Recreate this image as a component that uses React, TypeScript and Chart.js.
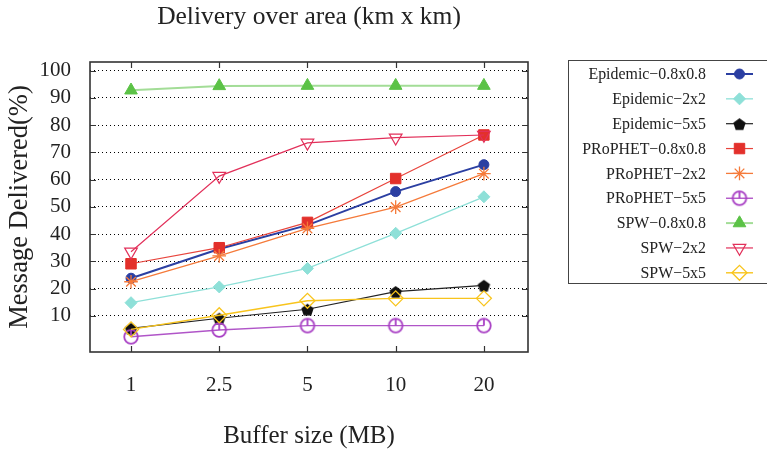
import React, { useEffect, useRef } from 'react';
import { Chart, registerables } from 'chart.js';
import { drawPoint } from 'chart.js/helpers';

Chart.register(...registerables);

// ---- data ----
const chartTitle = 'Delivery over area (km x km)';
const xAxisTitle = 'Buffer size (MB)';
const yAxisTitle = 'Message Delivered(%)';
const xLabels = ['1', '2.5', '5', '10', '20'];
const yTicks = [10, 20, 30, 40, 50, 60, 70, 80, 90, 100];

const seriesNames = [
  'Epidemic\u22120.8x0.8',
  'Epidemic\u22122x2',
  'Epidemic\u22125x5',
  'PRoPHET\u22120.8x0.8',
  'PRoPHET\u22122x2',
  'PRoPHET\u22125x5',
  'SPW\u22120.8x0.8',
  'SPW\u22122x2',
  'SPW\u22125x5',
];

const epidemic08 = [23.8, 34.5, 43.3, 55.6, 65.5];
const epidemic2 = [14.8, 20.6, 27.4, 40.3, 53.7];
const epidemic5 = [5.4, 9.1, 12.4, 18.9, 21.2];
const prophet08 = [29.1, 35.0, 44.3, 60.4, 76.4];
const prophet2 = [22.5, 32.0, 42.1, 49.9, 62.2];
const prophet5 = [2.3, 4.8, 6.4, 6.4, 6.4];
const spw08 = [92.8, 94.4, 94.5, 94.5, 94.5];
const spw2 = [33.5, 61.3, 73.5, 75.4, 76.4];
const spw5 = [5.0, 10.2, 15.5, 16.4, 16.4];

const seriesValues = [epidemic08, epidemic2, epidemic5, prophet08, prophet2, prophet5, spw08, spw2, spw5];

const FONT = '"Liberation Serif", "Times New Roman", serif';

function makePentagon(color: string, r: number) {
  const c = document.createElement('canvas');
  const s = Math.ceil(r * 2 + 2);
  c.width = s;
  c.height = s;
  const ctx = c.getContext('2d')!;
  ctx.beginPath();
  for (let k = 0; k < 5; k++) {
    const a = -Math.PI / 2 + (k * 2 * Math.PI) / 5;
    ctx.lineTo(s / 2 + r * Math.cos(a), s / 2 + 1 + r * Math.sin(a));
  }
  ctx.closePath();
  ctx.fillStyle = color;
  ctx.fill();
  return c;
}

function makeCircleTick(color: string, r: number, lw: number) {
  const c = document.createElement('canvas');
  const s = Math.ceil(r * 2 + lw + 2);
  c.width = s;
  c.height = s;
  const ctx = c.getContext('2d')!;
  ctx.strokeStyle = color;
  ctx.lineWidth = lw;
  ctx.beginPath();
  ctx.arc(s / 2, s / 2, r, 0, Math.PI * 2);
  ctx.stroke();
  ctx.beginPath();
  ctx.moveTo(s / 2, s / 2 - r);
  ctx.lineTo(s / 2, s / 2);
  ctx.stroke();
  return c;
}

const framePlugin = {
  id: 'frameTicks',
  beforeDatasetsDraw(chart: any) {
    const { ctx, chartArea } = chart;
    const { left, right, top, bottom } = chartArea;
    const xs = chart.scales.x;
    const ys = chart.scales.y;
    ctx.save();
    ctx.strokeStyle = '#333';
    ctx.lineWidth = 1.2;
    ctx.beginPath();
    yTicks.forEach((v) => {
      const py = Math.round(ys.getPixelForValue(v)) + 0.5;
      ctx.moveTo(left, py);
      ctx.lineTo(left + 6, py);
      ctx.moveTo(right, py);
      ctx.lineTo(right - 6, py);
    });
    xLabels.forEach((_, i) => {
      const px = Math.round(xs.getPixelForValue(i)) + 0.5;
      ctx.moveTo(px, bottom);
      ctx.lineTo(px, bottom - 6);
      ctx.moveTo(px, top);
      ctx.lineTo(px, top + 6);
    });
    ctx.stroke();
    ctx.lineWidth = 1.6;
    ctx.strokeStyle = '#333';
    ctx.strokeRect(left, top, right - left, bottom - top);
    ctx.restore();
  },
};

const legendPlugin = {
  id: 'sideLegend',
  afterDraw(chart: any) {
    const { ctx } = chart;
    ctx.save();
    ctx.strokeStyle = '#444';
    ctx.lineWidth = 1;
    ctx.strokeRect(568.5, 60.5, 210, 223);
    ctx.font = `15.9px ${FONT}`;
    ctx.textAlign = 'right';
    ctx.textBaseline = 'middle';
    chart.data.datasets.forEach((ds: any, i: number) => {
      const y = 74 + i * 24.85;
      ctx.fillStyle = '#222';
      ctx.fillText(ds.label, 706, y + 1);
      ctx.strokeStyle = ds.borderColor;
      ctx.lineWidth = ds.borderWidth;
      ctx.beginPath();
      ctx.moveTo(726, y);
      ctx.lineTo(753, y);
      ctx.stroke();
      ctx.strokeStyle = ds.pointBorderColor;
      ctx.fillStyle = ds.pointBackgroundColor;
      ctx.lineWidth = ds.pointBorderWidth;
      drawPoint(
        ctx,
        { pointStyle: ds.pointStyle, rotation: ds.pointRotation || 0, radius: ds.pointRadius, borderWidth: ds.pointBorderWidth },
        739.5,
        y
      );
    });
    ctx.restore();
  },
};

export default function App() {
  const ref = useRef<HTMLCanvasElement | null>(null);

  useEffect(() => {
    const canvas = ref.current;
    if (!canvas) return;

    const styles = [
      { color: '#2b3fa2', line: '#2b3fa2', lw: 2, ps: 'circle', r: 5, fill: '#2b3fa2', bw: 1, rot: 0 },
      { color: '#8ee0d8', line: '#8ee0d8', lw: 1.3, ps: 'rectRot', r: 6, fill: '#8ee0d8', bw: 1, rot: 0 },
      { color: '#111111', line: '#222222', lw: 1.2, ps: makePentagon('#111111', 6.5), r: 6.5, fill: '#111111', bw: 1, rot: 0 },
      { color: '#e3302b', line: '#e8443c', lw: 1.2, ps: 'rect', r: 7.4, fill: '#e3302b', bw: 1, rot: 0 },
      { color: '#f57a3a', line: '#f57a3a', lw: 1.3, ps: 'star', r: 6.8, fill: 'rgba(0,0,0,0)', bw: 1.3, rot: 0 },
      { color: '#a83fc4', line: '#b055c8', lw: 1.4, ps: makeCircleTick('#a83fc4', 6.8, 1.8), r: 7, fill: 'rgba(0,0,0,0)', bw: 1.8, rot: 0 },
      { color: '#5bc246', line: '#a3dd97', lw: 2, ps: 'triangle', r: 7.3, fill: '#5bc246', bw: 1, rot: 0 },
      { color: '#e2305a', line: '#e2305a', lw: 1.2, ps: 'triangle', r: 7.3, fill: 'rgba(0,0,0,0)', bw: 1.2, rot: 180 },
      { color: '#f8c41c', line: '#f8c41c', lw: 1.4, ps: 'rectRot', r: 7.5, fill: 'rgba(0,0,0,0)', bw: 1.3, rot: 0 },
    ];

    const datasets = seriesNames.map((name, i) => {
      const s = styles[i];
      return {
        label: name,
        data: seriesValues[i].map((v, k) => ({ x: k, y: v })),
        borderColor: s.line,
        borderWidth: s.lw,
        backgroundColor: s.fill,
        pointStyle: s.ps as any,
        pointRadius: s.r,
        pointHoverRadius: s.r,
        pointBackgroundColor: s.fill,
        pointBorderColor: s.color,
        pointBorderWidth: s.bw,
        pointRotation: s.rot,
        tension: 0,
        fill: false,
        order: seriesNames.length - i,
      };
    });

    const chart = new Chart(canvas, {
      type: 'line',
      data: { datasets },
      options: {
        animation: false,
        responsive: false,
        devicePixelRatio: 1,
        layout: { padding: { left: 0, right: 239, top: 0, bottom: 0 } },
        plugins: {
          legend: { display: false },
          tooltip: { enabled: false },
          title: {
            display: true,
            text: chartTitle,
            fullSize: false,
            color: '#222',
            font: { family: FONT, size: 25.5, weight: 'normal' },
            padding: { top: 2, bottom: 29.4 },
          },
        },
        scales: {
          x: {
            type: 'linear',
            min: -0.465,
            max: 4.5,
            afterBuildTicks: (axis: any) => {
              axis.ticks = xLabels.map((_, i) => ({ value: i }));
            },
            afterFit: (axis: any) => {
              axis.height = 99;
            },
            ticks: {
              callback: (v: any) => xLabels[v as number] ?? '',
              color: '#222',
              font: { family: FONT, size: 21 },
              padding: 21,
              maxRotation: 0,
              autoSkip: false,
            },
            grid: { display: false, drawTicks: false },
            border: { display: false },
            title: {
              display: true,
              text: xAxisTitle,
              color: '#222',
              font: { family: FONT, size: 25 },
              padding: { top: 0, bottom: 0 },
            },
          },
          y: {
            type: 'linear',
            min: -3.3,
            max: 103.2,
            afterBuildTicks: (axis: any) => {
              axis.ticks = yTicks.map((v) => ({ value: v }));
            },
            afterFit: (axis: any) => {
              axis.width = 90;
            },
            ticks: {
              color: '#222',
              font: { family: FONT, size: 21 },
              padding: 19,
              autoSkip: false,
            },
            grid: { display: true, drawTicks: false, color: '#000', lineWidth: 1 },
            border: { display: false, dash: [1, 3] },
            title: {
              display: true,
              text: yAxisTitle,
              color: '#222',
              font: { family: FONT, size: 26.5 },
              padding: { top: 4, bottom: 0 },
            },
          },
        },
      },
      plugins: [framePlugin, legendPlugin],
    });

    return () => chart.destroy();
  }, []);

  return (
    <div style={{ position: 'fixed', left: 0, top: 0, width: 767, height: 451, background: '#fff' }}>
      <canvas ref={ref} width={767} height={451} style={{ display: 'block', width: 767, height: 451 }} />
    </div>
  );
}
